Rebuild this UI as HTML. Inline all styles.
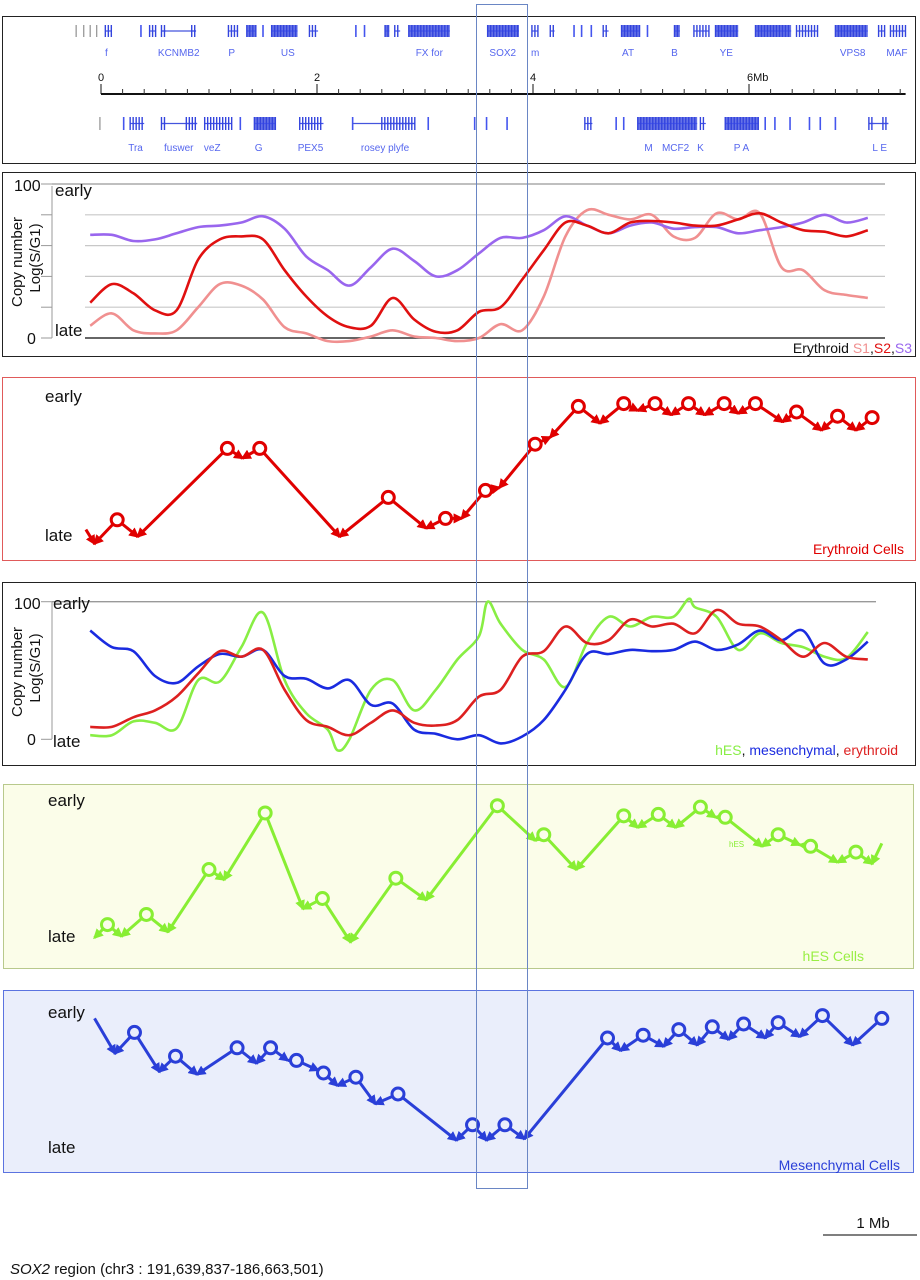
<!DOCTYPE html>
<html><head><meta charset="utf-8">
<style>
html,body{margin:0;padding:0;background:#fff;}
svg{display:block;font-family:"Liberation Sans",sans-serif;}
</style></head>
<body>
<svg id="fig" width="920" height="1280" viewBox="0 0 920 1280">
<defs>
<marker id="ar-red" viewBox="0 0 10 10" refX="8" refY="5" markerWidth="3.4" markerHeight="3.4" orient="auto"><path d="M0,0 L10,5 L0,10 z" fill="#e00000"/></marker>
<marker id="ar-green" viewBox="0 0 10 10" refX="8" refY="5" markerWidth="3.4" markerHeight="3.4" orient="auto"><path d="M0,0 L10,5 L0,10 z" fill="#88ee33"/></marker>
<marker id="ar-blue" viewBox="0 0 10 10" refX="8" refY="5" markerWidth="3.4" markerHeight="3.4" orient="auto"><path d="M0,0 L10,5 L0,10 z" fill="#2a3fd8"/></marker>
</defs>

<rect x="2.5" y="16.5" width="913" height="147" fill="#fff" stroke="#222"/>
<rect x="2.5" y="172.5" width="913" height="184" fill="#fff" stroke="#222"/>
<rect x="2.5" y="377.5" width="913" height="183" fill="#fff" stroke="#e05a5a"/>
<rect x="2.5" y="582.5" width="913" height="183" fill="#fff" stroke="#222"/>
<rect x="3.5" y="784.5" width="910" height="184" fill="#fbfde9" stroke="#b8c98c"/>
<rect x="3.5" y="990.5" width="910" height="182" fill="#eaeefb" stroke="#5b73e0"/>

<g id="genes"></g>
<g id="p2"></g>
<g id="p3"></g>
<g id="p4"></g>
<g id="p5"></g>
<g id="p6"></g>

<g font-size="16" fill="#111">
<text x="14" y="191">100</text>
<text x="27" y="344">0</text>
<text x="55" y="196" font-size="17">early</text>
<text x="55" y="336" font-size="17">late</text>
<text transform="translate(22,262) rotate(-90)" text-anchor="middle" font-size="15">Copy number</text>
<text transform="translate(40,258) rotate(-90)" text-anchor="middle" font-size="15">Log(S/G1)</text>
<text x="912" y="353" text-anchor="end" font-size="14">Erythroid <tspan fill="#f09090">S1</tspan>,<tspan fill="#e01010">S2</tspan>,<tspan fill="#9966ee">S3</tspan></text>

<text x="45" y="402" font-size="17">early</text>
<text x="45" y="541" font-size="17">late</text>
<text x="904" y="554" text-anchor="end" font-size="14" fill="#e00000">Erythroid Cells</text>

<text x="14" y="609">100</text>
<text x="27" y="745">0</text>
<text x="53" y="609" font-size="17">early</text>
<text x="53" y="747" font-size="17">late</text>
<text transform="translate(22,672) rotate(-90)" text-anchor="middle" font-size="15">Copy number</text>
<text transform="translate(40,668) rotate(-90)" text-anchor="middle" font-size="15">Log(S/G1)</text>
<text x="898" y="755" text-anchor="end" font-size="14"><tspan fill="#88ee44">hES</tspan>, <tspan fill="#1a2be0">mesenchymal</tspan>, <tspan fill="#dd2020">erythroid</tspan></text>

<text x="48" y="806" font-size="17">early</text>
<text x="48" y="942" font-size="17">late</text>
<text x="864" y="961" text-anchor="end" font-size="14" fill="#99ee44">hES Cells</text>
<text x="729" y="847" font-size="8" fill="#88ee33">hES</text>

<text x="48" y="1018" font-size="17">early</text>
<text x="48" y="1153" font-size="17">late</text>
<text x="900" y="1170" text-anchor="end" font-size="14" fill="#2a3fd8">Mesenchymal Cells</text>

<text x="873" y="1228" text-anchor="middle" font-size="15">1 Mb</text>
<text x="10" y="1274" font-size="15"><tspan font-style="italic">SOX2</tspan> region (chr3 : 191,639,837-186,663,501)</text>
</g>
<line x1="823" y1="1235" x2="917" y2="1235" stroke="#555" stroke-width="1.5"/>

<rect x="476.5" y="4.5" width="51" height="1184" fill="none" stroke="#6a86c4" stroke-width="1"/>
</svg>

<script>
// ---------- shared genomic x axis (Mb) ----------
function X(mb){ return 101 + mb*108; }
var NS='http://www.w3.org/2000/svg';
function el(tag, attrs, parent){ var e=document.createElementNS(NS,tag); for(var k in attrs) e.setAttribute(k, attrs[k]); parent.appendChild(e); return e; }

// ---------- data: erythroid profile (panel 2) ----------
var gridPos = [-0.1,0.1,0.3,0.5,0.7,0.9,1.1,1.3,1.5,1.7,1.9,2.1,2.3,2.5,2.7,2.9,3.1,3.3,3.5,3.7,3.9,4.1,4.3,4.5,4.7,4.9,5.1,5.3,5.5,5.7,5.9,6.1,6.3,6.5,6.7,6.9,7.1];
var eryS1 = [8,16,5,3,5,20,35,34,25,7,3,-2,-2,1,5,1,0,-2,0,9,5,27,66,83,80,77,80,66,65,81,77,81,46,44,31,28,26];
var eryS2 = [23,35,29,18,18,51,64,66,64,44,27,14,7,8,26,12,4,5,17,20,38,57,75,73,68,75,76,75,73,73,77,81,75,70,69,66,70];
var eryS3 = [67,67,63,64,68,72,73,75,79,71,53,44,34,46,58,50,40,44,55,65,65,70,79,73,68,73,75,71,72,72,68,70,72,75,80,75,78];
var p2Ticks = [0,20,40,60,80,100];

// ---------- data: cell-type profiles (panel 4) ----------
var hesPos = [-0.1,0.1,0.3,0.5,0.7,0.9,1.1,1.3,1.5,1.7,1.9,2.1,2.19,2.3,2.5,2.7,2.9,3.1,3.3,3.5,3.58,3.7,3.9,4.1,4.3,4.5,4.7,4.9,5.1,5.3,5.44,5.5,5.7,5.9,6.1,6.3,6.5,6.7,6.9,7.1];
var hesVal = [3,3,13,12,8,43,42,67,92,43,19,7,-8,0,36,43,21,36,58,75,100,84,65,58,38,70,89,82,89,89,102,96,89,65,77,70,67,60,59,78];
var mesVal = [79,67,64,46,41,53,62,60,65,46,44,37,43,25,26,7,4,0,3,-3,2,14,36,62,62,65,64,65,71,65,69,79,72,79,55,58,71];
var eryVal = [9,9,16,21,31,48,64,60,65,36,14,9,3,12,21,12,10,14,31,36,60,64,82,70,72,87,82,84,77,94,84,82,72,60,70,60,58];

// ---------- data: replication schematics (o = origin, v = fork convergence, s = start) ----------
var eryOPos = [-0.14,-0.06,0.15,0.34,1.17,1.31,1.47,2.21,2.66,3.01,3.19,3.34,3.56,3.69,4.02,4.16,4.42,4.62,4.84,4.97,5.13,5.28,5.44,5.59,5.77,5.90,6.06,6.31,6.44,6.67,6.82,6.99,7.14];
var eryOLvl = [6,-4,13,1,64,57,64,1,29,7,14,14,34,36,67,72,94,82,96,91,96,88,96,88,96,89,96,83,90,77,87,77,86];
var eryOType = ['s','v','o','v','o','v','o','v','o','v','o','v','o','v','o','v','o','v','o','v','o','v','o','v','o','v','o','v','o','v','o','v','o'];

var hesOPos = [-0.06,0.06,0.19,0.42,0.62,1.00,1.14,1.52,1.87,2.05,2.31,2.73,3.01,3.67,4.02,4.10,4.40,4.84,4.97,5.16,5.32,5.55,5.69,5.78,6.12,6.27,6.47,6.57,6.82,6.99,7.14,7.23];
var hesOLvl = [3,12,4,19,7,50,43,89,23,30,0,44,29,94,70,74,50,87,79,88,79,93,86,86,66,74,67,66,55,62,54,68];
var hesOType = ['v','o','v','o','v','o','v','o','v','o','v','o','v','o','v','o','v','o','v','o','v','o','v','o','v','o','v','o','v','o','v','s'];

var mesOPos = [-0.06,0.13,0.31,0.54,0.69,0.89,1.26,1.44,1.57,1.73,1.81,2.01,2.06,2.19,2.36,2.54,2.75,3.29,3.44,3.57,3.74,3.92,4.69,4.81,5.02,5.21,5.35,5.52,5.66,5.81,5.95,6.15,6.27,6.47,6.68,6.96,7.23];
var mesOLvl = [94,69,84,56,67,54,73,62,73,64,64,57,55,46,52,33,40,7,18,7,18,8,80,71,82,74,86,75,88,79,90,80,91,81,96,75,94];
var mesOType = ['s','v','o','v','o','v','o','v','o','v','o','v','o','v','o','v','o','v','o','v','o','v','o','v','o','v','o','v','o','v','o','v','o','v','o','v','o'];

// ---------- data: gene tracks (Mb ranges, dense flag) ----------
var topGenes = [[0.04,0.10,0],[0.37,0.37,0],[0.45,0.51,0],[0.56,0.60,0],[0.84,0.88,0],[1.18,1.27,0],[1.35,1.44,1],[1.50,1.50,0],[1.58,1.82,1],[1.93,2.01,0],[2.36,2.36,0],[2.44,2.44,0],[2.63,2.67,1],[2.72,2.77,0],[2.85,3.23,1],[3.58,3.87,1],[3.99,4.05,0],[4.16,4.20,0],[4.38,4.38,0],[4.45,4.45,0],[4.54,4.54,0],[4.65,4.70,0],[4.82,4.99,1],[5.06,5.06,0],[5.31,5.36,1],[5.49,5.63,0],[5.69,5.90,1],[6.06,6.39,1],[6.44,6.64,0],[6.80,7.10,1],[7.20,7.26,0],[7.31,7.45,0]];
var topIntrons = [[0.56,0.88]];
var topLabels = ['f','KCNMB2','P','US','FX for','SOX2','m','AT','B','YE','VPS8','MAF'];
var topLabelPos = [0.05,0.72,1.21,1.73,3.04,3.72,4.02,4.88,5.31,5.79,6.96,7.37];
var botGenes = [[0.21,0.21,0],[0.27,0.40,0],[0.56,0.60,0],[0.79,0.89,0],[0.96,1.21,0],[1.29,1.29,0],[1.42,1.62,1],[1.84,2.06,0],[2.33,2.33,0],[2.60,2.91,0],[3.03,3.03,0],[3.46,3.46,0],[3.57,3.57,0],[3.76,3.76,0],[4.48,4.55,0],[4.77,4.77,0],[4.84,4.84,0],[4.97,5.52,1],[5.55,5.60,0],[5.78,6.09,1],[6.15,6.15,0],[6.24,6.24,0],[6.38,6.38,0],[6.56,6.56,0],[6.66,6.66,0],[6.80,6.80,0],[7.11,7.16,0],[7.24,7.29,0]];
var botIntrons = [[0.56,0.89],[2.33,2.91],[7.11,7.29]];
var botLabels = ['Tra','fuswer','veZ','G','PEX5','rosey plyfe','M','MCF2','K','P A','L E'];
var botLabelPos = [0.32,0.72,1.03,1.46,1.94,2.63,5.07,5.32,5.55,5.93,7.21];
var axisMajor = [0,2,4,6];
var axisMajorLabels = ['0','2','4','6Mb'];

(function(){
  var g=document.getElementById('genes');
  function track(genes,introns,y1,y2){
    introns.forEach(function(r){
      var l=el('line',{x1:X(r[0]),x2:X(r[1]),y1:(y1+y2)/2,y2:(y1+y2)/2,stroke:'#4455dd','stroke-width':1.2},g);
      
      
    });
    genes.forEach(function(r){
      var a=X(r[0]), b=X(r[1]);
      if(r[2]){
        var rc=el('rect',{x:a,y:y1,width:Math.max(1.5,b-a),height:y2-y1,fill:'#3344dd',opacity:0.75},g);
        
        
      }
      if(b-a<1){
        var ln=el('line',{x1:a,x2:a,y1:y1,y2:y2,stroke:'#4455ee','stroke-width':1.6},g);
        
        
      } else {
        el('line',{x1:a,x2:b,y1:(y1+y2)/2,y2:(y1+y2)/2,stroke:'#4455ee','stroke-width':1.2},g);
        for(var x=a;x<=b+0.1;x+=3){
          var v=el('line',{x1:x,x2:x,y1:y1,y2:y2,stroke:'#3344dd','stroke-width':1.4},g);
          
          
        }
      }
    });
  }
  [-0.23,-0.16,-0.10,-0.04].forEach(function(p){ el('line',{x1:X(p),x2:X(p),y1:25,y2:37,stroke:'#999','stroke-width':1.3},g); });
  el('line',{x1:X(-0.01),x2:X(-0.01),y1:117,y2:130,stroke:'#999','stroke-width':1.3},g);
  track(topGenes,topIntrons,25,37);
  track(botGenes,botIntrons,117,130);
  topLabels.forEach(function(t,i){
    var tx=el('text',{x:X(topLabelPos[i]),y:56,'text-anchor':'middle','font-size':10,fill:'#5566ee'},g);
    tx.textContent=t;
    
    
  });
  botLabels.forEach(function(t,i){
    var tx=el('text',{x:X(botLabelPos[i]),y:151,'text-anchor':'middle','font-size':10,fill:'#5566ee'},g);
    tx.textContent=t;
    
    
  });
  var ax=el('line',{x1:X(0),x2:X(7.45),y1:94,y2:94,stroke:'#111','stroke-width':2},g);
  
  
  for(var k=0;k<=37;k++){
    var p=k*0.2;
    el('line',{x1:X(p),x2:X(p),y1:89,y2:94,stroke:'#333','stroke-width':1},g);
  }
  axisMajor.forEach(function(p,i){
    el('line',{x1:X(p),x2:X(p),y1:84,y2:94,stroke:'#111','stroke-width':1},g);
    var t=el('text',{x:X(p)+(i==3?-2:0),y:81,'text-anchor':i==3?'start':'middle','font-size':11,fill:'#111'},g);
    t.textContent=axisMajorLabels[i];
    
    
  });
})();

// smooth (Catmull-Rom) line through data points
function drawLine(g,pos,vals,yFn,color,name){
  var P=pos.map(function(p,i){ return [X(p), yFn(vals[i])]; });
  var d='M'+P[0][0].toFixed(1)+','+P[0][1].toFixed(1);
  for(var i=0;i<P.length-1;i++){
    var p0=P[i>0?i-1:i], p1=P[i], p2=P[i+1], p3=P[i+2<P.length?i+2:i+1];
    var c1x=p1[0]+(p2[0]-p0[0])/6, c1y=p1[1]+(p2[1]-p0[1])/6;
    var c2x=p2[0]-(p3[0]-p1[0])/6, c2y=p2[1]-(p3[1]-p1[1])/6;
    d+='C'+c1x.toFixed(1)+','+c1y.toFixed(1)+' '+c2x.toFixed(1)+','+c2y.toFixed(1)+' '+p2[0].toFixed(1)+','+p2[1].toFixed(1);
  }
  var p=el('path',{d:d,fill:'none',stroke:color,'stroke-width':2.6,'stroke-linejoin':'round'},g);
  
  
}

(function(){
  var g=document.getElementById('p2');
  function Y(v){ return 338 - v*1.54; }
  el('line',{x1:52,x2:52,y1:186,y2:338,stroke:'#999','stroke-width':1},g);
  p2Ticks.forEach(function(t){
    var gl=el('line',{x1:t==100?52:85,x2:885,y1:Y(t),y2:Y(t),stroke:t==0?'#333':(t==100?'#999':'#c8c8c8'),'stroke-width':t==0?1.6:1.2},g);
    
    
    el('line',{x1:41,x2:52,y1:Y(t),y2:Y(t),stroke:'#999','stroke-width':1},g);
  });
  drawLine(g,gridPos,eryS1,Y,'#f09090','line-erythroid-s1');
  drawLine(g,gridPos,eryS3,Y,'#9966ee','line-erythroid-s3');
  drawLine(g,gridPos,eryS2,Y,'#e01010','line-erythroid-s2');
})();

(function(){
  var g=document.getElementById('p4');
  function Y(v){ return 739.3 - v*1.376; }
  el('line',{x1:52,x2:52,y1:602,y2:739,stroke:'#999','stroke-width':1},g);
  var topLine=el('line',{x1:52,x2:876,y1:Y(100),y2:Y(100),stroke:'#999','stroke-width':1.3},g);
  
  
  el('line',{x1:41,x2:52,y1:Y(0),y2:Y(0),stroke:'#999','stroke-width':1},g);
  el('line',{x1:41,x2:52,y1:Y(100),y2:Y(100),stroke:'#999','stroke-width':1},g);
  drawLine(g,hesPos,hesVal,Y,'#88ee44','line-hes');
  drawLine(g,gridPos,mesVal,Y,'#1a2be0','line-mesenchymal');
  drawLine(g,gridPos,eryVal,Y,'#dd2020','line-erythroid');
})();

function drawSchematic(gid,pos,lvl,type,yBase,yScale,color,marker,bg,name){
  var g=document.getElementById(gid);
  var pts=pos.map(function(p,i){ return {x:X(p), y:yBase-lvl[i]*yScale, t:type[i]}; });
  var R=6;
  for(var i=0;i<pts.length-1;i++){
    var a=pts[i], b=pts[i+1], from=a, to=b, arrow=false;
    if(b.t=='v'){ from=a; to=b; arrow=true; }
    else if(a.t=='v'){ from=b; to=a; arrow=true; }
    var dx=to.x-from.x, dy=to.y-from.y, L=Math.sqrt(dx*dx+dy*dy)||1;
    var sx=from.x, sy=from.y;
    if(from.t=='o'){ sx+=dx/L*R; sy+=dy/L*R; }
    var attrs={x1:sx,y1:sy,x2:to.x,y2:to.y,stroke:color,'stroke-width':3};
    if(arrow) attrs['marker-end']='url(#'+marker+')';
    var ln=el('line',attrs,g);
    
    
  }
  pts.forEach(function(p){
    if(p.t=='o'){
      var c=el('circle',{cx:p.x,cy:p.y,r:R,fill:bg,stroke:color,'stroke-width':3},g);
      
      
    }
  });
}
drawSchematic('p3',eryOPos,eryOLvl,eryOType,538,1.4,'#e00000','ar-red','#fff','erythroid');
drawSchematic('p5',hesOPos,hesOLvl,hesOType,942,1.45,'#88ee33','ar-green','#fbfde9','hes');
drawSchematic('p6',mesOPos,mesOLvl,mesOType,1150,1.4,'#2a3fd8','ar-blue','#eaeefb','mesenchymal');
</script>
</body></html>
